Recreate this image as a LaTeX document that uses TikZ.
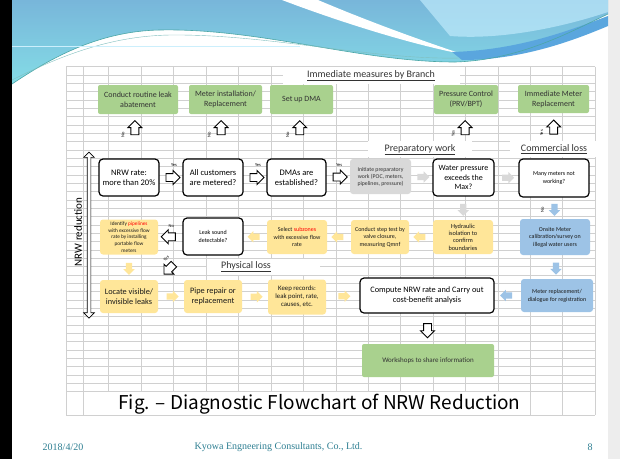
\documentclass[tikz,border=0pt]{standalone}
\usepackage{fontspec}
\setmainfont{Carlito}
\newfontfamily\capfont{Noto Sans CJK JP}
\newfontfamily\footfont{Liberation Serif}
\usetikzlibrary{shapes.arrows,positioning,calc}
\definecolor{grn}{HTML}{A9D18E}
\definecolor{ylw}{HTML}{FFE699}
\definecolor{blu}{HTML}{9DC3E6}
\definecolor{gry}{HTML}{D9D9D9}
\definecolor{gridc}{HTML}{D0D0D0}
\definecolor{footc}{HTML}{2E7F92}
\definecolor{hdrA}{HTML}{78B6DA}
\definecolor{hdrB}{HTML}{84DCE6}
\definecolor{hdrC}{HTML}{5AA6DE}
\newcommand\fsz[2]{\fontsize{#1}{#2}\selectfont}

\begin{document}
\begin{tikzpicture}[x=1pt, y=-1pt,
    dec/.style={draw, line width=1.2pt, rounded corners=4pt, fill=white, align=center, inner sep=1pt},
    gbox/.style={fill=grn, rounded corners=2pt, align=center, inner sep=1pt, text=black!80},
    ybox/.style={fill=ylw, rounded corners=3pt, align=center, inner sep=1pt, text=black!90},
    bbox/.style={fill=blu, rounded corners=3pt, align=center, inner sep=1pt, text=black!90},
    pbox/.style={fill=gry, rounded corners=3pt, align=center, inner sep=1pt, text=black!80},
    sz/.style 2 args={minimum width=#1pt, minimum height=#2pt},
    harr/.style={single arrow, draw, fill=white, line width=0.9pt, minimum height=14pt, single arrow head extend=3pt, inner xsep=0pt, inner ysep=3.5pt, rotate=#1},
    farr/.style 2 args={single arrow, fill=#1, minimum height=12pt, single arrow head extend=2.5pt, inner xsep=0pt, inner ysep=3pt, rotate=#2},
    tag/.style={font=\fsz{4.5}{5}, inner sep=0pt},
    vtag/.style={tag, rotate=90},
    head/.style={font=\fsz{10}{12}, text=black!80, inner sep=0pt}
]
\useasboundingbox (0,0) rectangle (620,459);
\fill[white] (0,0) rectangle (620,459);
\fill[black] (0,0) rectangle (12,459);
\fill[black!7] (608,0) rectangle (620,459);

\shade[top color=hdrA, bottom color=hdrB] (12,0) -- (608,0) -- (608,14) .. controls (570,32) and (520,60) .. (455,62) .. controls (360,62) and (260,28) .. (160,30) .. controls (95,31) and (45,62) .. (12,84) -- cycle;
\fill[cyan!25, opacity=0.7] (420,0) -- (608,0) -- (608,12) .. controls (560,28) and (500,40) .. (450,36) -- cycle;
\fill[white] (282,0) -- (318,0) .. controls (370,22) and (420,40) .. (462,54) .. controls (410,44) and (340,22) .. (282,0) -- cycle;
\fill[hdrC] (452,52) .. controls (520,50) and (570,30) .. (608,16) -- (608,26) .. controls (570,42) and (520,60) .. (462,60) -- cycle;
\draw[teal!70, line width=0.6pt] (12,84) .. controls (45,62) and (95,31) .. (160,30) .. controls (260,28) and (360,62) .. (455,62) .. controls (520,60) and (570,32) .. (608,14);
\draw[teal!50, line width=0.4pt] (12,80) .. controls (60,56) and (110,36) .. (170,35) .. controls (270,34) and (370,60) .. (460,58);
\draw[white!80!cyan, line width=0.4pt] (12,46) -- (300,46);

\foreach \gx in {66,83,108,141,173,206,238,271,303,336,368,400,433,465,498,530,562,595}
  \draw[gridc, line width=0.7pt] (\gx,66.67) -- (\gx,415);
\foreach \r in {0,...,39}
  \draw[gridc, line width=0.7pt] (66,{66.67+\r*8.333}) -- (595,{66.67+\r*8.333});
\draw[gridc, line width=0.7pt] (66,415) -- (595,415);

\fill[white] (283,67) rectangle (460,84);
\fill[white] (368,141) rectangle (472,157);
\fill[white] (510,141) rectangle (597,157);
\fill[white] (207,259) rectangle (320,275);
\fill[white] (108,391.5) rectangle (530,414.5);

\node[head] (imm) at (371,76) {\underline{Immediate measures by Branch}};
\node[head] (prep) at (420,150) {\underline{Preparatory work}};
\node[head] (comm) at (554,149) {\underline{Commercial loss}};
\node[head] (phys) at (246,267) {\underline{Physical loss}};

\node[gbox, sz={80}{29}, font=\fsz{8}{10}] (g1) at (138,99.5) {Conduct routine leak\\abatement};
\node[gbox, sz={73}{29}, font=\fsz{8}{10}] (g2) at (225.5,99.5) {Meter installation/\\Replacement};
\node[gbox, sz={63}{29}, font=\fsz{8}{10}] (g3) at (301.5,99.5) {Set up DMA};
\node[gbox, sz={64}{29}, font=\fsz{8}{10}] (g4) at (466,99.5) {Pressure Control\\(PRV/BPT)};
\node[gbox, sz={71}{28}, font=\fsz{8}{10}] (g5) at (553.5,99) {Immediate Meter\\Replacement};

\node[dec, sz={60}{37}, font=\fsz{8.5}{10}] (d1) at (129,177.5) {NRW rate:\\more than 20\%};
\node[dec, sz={60}{37}, font=\fsz{8.5}{10}] (d2) at (213,177.5) {All customers\\are metered?};
\node[dec, sz={59}{37}, font=\fsz{8.5}{10}] (d3) at (296.5,177.5) {DMAs are\\established?};
\node[pbox, sz={61}{35}, font=\fsz{5.8}{7}] (p1) at (380.5,176.5) {Initiate preparatory\\work (POC, meters,\\pipelines, pressure)};
\node[dec, sz={61}{37}, font=\fsz{8}{9.5}] (d4) at (463.5,177.5) {Water pressure\\exceeds the\\Max?};
\node[dec, sz={70}{38}, font=\fsz{6}{7.5}] (d5) at (554,178) {Many meters not\\working?};

\node[ybox, sz={58}{35}, font=\fsz{5.3}{6.6}] (y1) at (129,237) {Identify \textcolor{red}{pipelines}\\with excessive flow\\rate by installing\\portable flow\\meters};
\node[dec, sz={60}{37}, font=\fsz{6}{7.5}] (d6) at (213,236.5) {Leak sound\\detectable?};
\node[ybox, sz={60}{34}, font=\fsz{6}{7.5}] (y2) at (297,237) {Select \textcolor{red}{subzones}\\with excessive flow\\rate};
\node[ybox, sz={58}{34}, font=\fsz{6}{7.5}] (y3) at (380,237) {Conduct step test by\\valve closure,\\measuring Qmnf};
\node[ybox, sz={60}{34}, font=\fsz{6.3}{7.4}] (y4) at (463,237) {Hydraulic\\isolation to\\confirm\\boundaries};
\node[bbox, sz={70}{36}, font=\fsz{6}{7.5}] (b1) at (555,237) {Onsite Meter\\calibration/survey on\\illegal water users};

\node[ybox, sz={58}{33}, font=\fsz{8.3}{10}] (y5) at (129,296.5) {Locate visible/\\invisible leaks};
\node[ybox, sz={58}{33}, font=\fsz{8.3}{10}] (y6) at (213,296.5) {Pipe repair or\\replacement};
\node[ybox, sz={58}{35}, font=\fsz{6.8}{8}] (y7) at (297,297) {Keep records:\\leak point, rate,\\causes, etc.};
\node[dec, sz={134}{35}, font=\fsz{8.3}{10}] (d7) at (427,295.5) {Compute NRW rate and Carry out\\cost-benefit analysis};
\node[bbox, sz={72}{33}, font=\fsz{6}{8}] (b2) at (557,295.5) {Meter replacement/\\dialogue for registration};
\node[gbox, sz={132}{33}, font=\fsz{7}{8}] (g6) at (428,360.5) {Workshops to share information};

\node[harr=90] (u1) at ($(g1.south)!0.35!(d1.north)$) {};
\node[harr=90] (u2) at ($(g2.south)!0.35!(d2.north)$) {};
\node[harr=90] (u3) at ($(g3.south)!0.35!(d3.north)$) {};
\node[harr=90] (u4) at ($(g4.south)!0.35!(d4.north)$) {};
\node[harr=90] (u5) at ($(g5.south)!0.35!(d5.north)$) {};
\node[vtag] (tu1) at ([xshift=-12pt,yshift=-5pt]u1.center) {No};
\node[vtag] (tu2) at ([xshift=-12pt,yshift=-5pt]u2.center) {No};
\node[vtag] (tu3) at ([xshift=-12pt,yshift=-5pt]u3.center) {No};
\node[vtag] (tu4) at ([xshift=-12pt,yshift=-4pt]u4.center) {Yes};
\node[vtag] (tu5) at ([xshift=-12pt,yshift=-4pt]u5.center) {Yes};

\node[harr=0] (a1) at ($(d1.east)!0.5!(d2.west)$) {};
\node[harr=0] (a2) at ($(d2.east)!0.5!(d3.west)$) {};
\node[harr=0] (a3) at ($(d3.east)!0.5!(p1.west)$) {};
\node[tag] (ta1) at ([xshift=3pt,yshift=12pt]a1.center) {Yes};
\node[tag] (ta2) at ([xshift=3pt,yshift=12pt]a2.center) {Yes};
\node[tag] (ta3) at ([xshift=1pt,yshift=12pt]a3.center) {Yes};
\node[farr={gry}{0}] (ga1) at ($(p1.east)!0.5!(d4.west)$) {};
\node[farr={gry}{0}] (ga2) at ($(d4.east)!0.5!(d5.west)$) {};
\node[farr={gry}{270}] (gd) at ($(d4.south)!0.5!(y4.north)$) {};
\node[farr={blu}{270}] (bd1) at ($(d5.south)!0.5!(b1.north)$) {};
\node[vtag] (tbd) at ([xshift=-12pt,yshift=-2pt]bd1.center) {No};
\node[farr={blu}{270}] (bd2) at ($(b1.south)!0.5!(b2.north)$) {};
\node[farr={blu}{180}] (bl) at ($(d7.east)!0.5!(b2.west)$) {};

\node[harr=180] (la1) at ($(y1.east)!0.5!(d6.west)$) {};
\node[tag] (tla) at ([xshift=1pt,yshift=11pt]la1.center) {No};
\node[farr={ylw}{180}] (ya1) at ($(d6.east)!0.5!(y2.west)$) {};
\node[farr={ylw}{180}] (ya2) at ($(y2.east)!0.5!(y3.west)$) {};
\node[farr={ylw}{180}] (ya3) at ($(y3.east)!0.5!(y4.west)$) {};
\node[farr={ylw}{270}] (yd) at ($(y1.south)!0.5!(y5.north)$) {};
\node[harr=225] (dg) at ($(d6.south west)!0.5!(y5.north east)$) {};
\node[tag, rotate=45] (tdg) at ([xshift=-4pt,yshift=9pt]dg.center) {Yes};

\node[farr={ylw}{0}] (yb1) at ($(y5.east)!0.5!(y6.west)$) {};
\node[farr={ylw}{0}] (yb2) at ($(y6.east)!0.5!(y7.west)$) {};
\node[farr={ylw}{0}] (yb3) at ($(y7.east)!0.5!(d7.west)$) {};
\node[harr=270] (hd) at ($(d7.south)!0.5!(g6.north)$) {};

\node[double arrow, draw, fill=white, line width=0.7pt, minimum height=166pt, double arrow head extend=3.5pt, inner xsep=0pt, inner ysep=1.5pt, rotate=90] (nrwarr) at (89,235) {};
\node[font=\fsz{11}{13}, rotate=90, inner sep=0pt] (nrwlbl) at ([xshift=-11pt,yshift=3pt]nrwarr.center) {NRW reduction};

\node[font=\capfont\fsz{19}{22}, inner sep=0pt] (cap) at (319.5,404) {Fig. – Diagnostic Flowchart of NRW Reduction};

\node[footc, font=\footfont\fsz{10}{12}] (date) at (63,447) {2018/4/20};
\node[footc, font=\footfont\fsz{10}{12}] (firm) at (278.5,447) {Kyowa Engneering Consultants, Co., Ltd.};
\node[footc, font=\footfont\fsz{10}{12}] (page) at (590,447) {8};
\end{tikzpicture}
\end{document}
